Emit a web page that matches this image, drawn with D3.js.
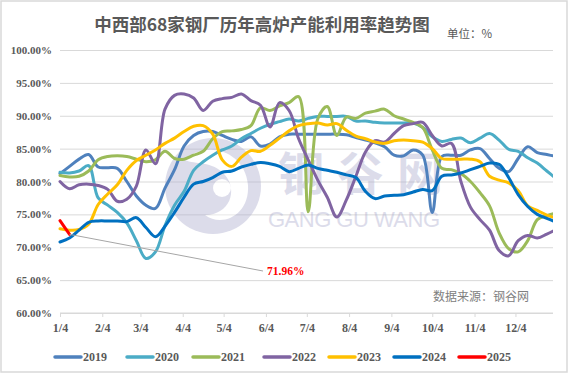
<!DOCTYPE html>
<html>
<head>
<meta charset="utf-8">
<script src="https://cdn.jsdelivr.net/npm/d3@7"></script>
<style>
  body { margin: 0; background: #fff; }
</style>
</head>
<body>
<script>
// weekly blast furnace utilisation, %, one value per week starting 1/4
var years = ["2019", "2020", "2021", "2022", "2023", "2024", "2025"];
var colors = ["#4f81bd", "#4bacc6", "#9bbb59", "#8064a2", "#ffc000", "#0070c0", "#ff0000"];

var v2019 = [81.2, 82.3, 83.4, 84.1, 82.2, 82.1, 82.0, 80.0, 77.8, 76.4,
             75.9, 79.0, 81.8, 85.4, 87.0, 87.6, 87.6, 87.0, 86.4, 86.1,
             86.8, 85.4, 85.7, 86.8, 87.2, 87.2, 87.2, 87.2, 87.2, 87.2,
             87.1, 86.7, 86.3, 85.9, 85.3, 84.0, 83.9, 84.8, 84.0, 75.3,
             83.8, 84.0, 84.0, 84.8, 85.0, 83.5, 82.0, 81.5, 83.5, 85.3,
             84.4, 84.1, 83.8];
var v2020 = [81.4, 81.3, 81.6, 82.4, 77.5, 76.4, 75.3, 73.7, 71.0, 68.3,
             69.3, 73.3, 76.4, 78.5, 81.7, 83.0, 84.0, 84.8, 85.4, 86.5,
             87.3, 88.1, 88.7, 89.1, 89.5, 89.2, 89.6, 89.9, 89.9, 89.9,
             89.9, 89.2, 89.2, 89.0, 88.9, 88.9, 88.9, 88.9, 88.2, 86.8,
             86.1, 86.4, 86.6, 85.9, 86.6, 87.3, 86.3, 84.9, 84.6, 83.6,
             82.8, 81.6, 80.4];
var v2021 = [80.9, 80.7, 80.8, 81.6, 83.3, 83.8, 83.9, 83.8, 83.4, 83.0,
             83.3, 84.6, 83.5, 83.4, 84.0, 84.6, 86.5, 87.6, 87.7, 87.9,
             88.5, 91.2, 90.8, 91.5, 92.0, 92.9, 75.4, 89.5, 91.4, 87.0,
             89.8, 89.6, 90.4, 90.7, 91.0, 90.0, 89.5, 89.0, 88.2, 84.8,
             82.0, 81.8, 81.2, 80.0, 78.3, 76.3, 72.2, 69.8, 69.3, 71.0,
             74.2, 74.8, 75.2];
var v2022 = [80.0, 78.9, 79.5, 79.6, 79.4, 78.8, 77.0, 77.3, 79.3, 84.8,
             82.7, 91.0, 93.1, 93.3, 92.7, 90.8, 92.2, 92.6, 92.8, 93.3,
             92.3, 91.6, 88.3, 92.0, 90.8, 86.5, 83.3, 80.2, 77.6, 74.6,
             77.2, 80.8, 84.5, 86.2, 86.0, 87.3, 88.5, 88.8, 89.0, 87.0,
             85.4, 85.8, 80.0, 76.1, 74.2, 72.6, 69.5, 68.7, 71.0, 71.8,
             71.4, 72.0, 72.7];
var v2023 = [72.8, 72.6, 72.7, 73.5, 76.5, 78.1, 79.5, 81.7, 83.2, 84.0,
             84.8, 85.8, 86.6, 87.6, 88.4, 88.5, 87.2, 83.3, 82.3, 83.7,
             84.7, 84.6, 85.5, 86.6, 87.7, 88.5, 88.8, 88.9, 88.6, 88.8,
             87.8, 86.9, 86.5, 86.0, 85.8, 86.2, 86.3, 86.2, 86.0, 85.0,
             83.5, 83.4, 83.4, 83.4, 83.0, 80.8, 80.2, 79.8, 78.6, 76.3,
             75.6, 74.9, 74.4];
var v2024 = [70.8, 71.4, 72.6, 73.8, 74.0, 74.0, 74.0, 73.9, 74.5, 73.0,
             71.6, 73.2, 75.3, 77.6, 79.6, 80.0, 80.6, 81.4, 81.6, 82.2,
             82.6, 82.9, 82.7, 82.3, 81.5, 82.0, 82.5, 82.0, 81.7, 81.4,
             81.0, 80.6, 78.5, 77.4, 77.8, 77.9, 78.0, 78.4, 78.8, 78.6,
             80.8, 81.0, 81.3, 81.8, 82.3, 82.8, 82.6, 80.6, 78.0, 76.2,
             75.0, 74.4, 73.8];
var v2025 = [74.05, 71.96];

var seriesValues = [v2019, v2020, v2021, v2022, v2023, v2024, v2025];
var yTicks = [60, 65, 70, 75, 80, 85, 90, 95, 100];
var xTickLabels = ["1/4", "2/4", "3/4", "4/4", "5/4", "6/4", "7/4", "8/4", "9/4", "10/4", "11/4", "12/4"];
var lastLabel = "71.96%";

var width = 570,
    height = 376;

var latin = "'Liberation Serif', 'DejaVu Serif', serif";
var cjk = "'Noto Sans CJK SC', sans-serif";

var svg = d3.select("body").append("svg")
            .attr("width", width)
            .attr("height", height);

svg.append("rect")
  .attr("x", 1).attr("y", 1)
  .attr("width", 566).attr("height", 371)
  .attr("fill", "#fff")
  .attr("stroke", "#d9d9d9")
  .attr("stroke-width", 1.5);

var start = new Date(2019, 0, 4);
var weeks = d3.range(53).map(function (i) { return d3.timeDay.offset(start, 7 * i); });

var x = d3.scaleTime()
  .domain([start, new Date(2020, 0, 2)])
  .range([60, 555]);

var y = d3.scaleLinear()
  .domain([60, 100])
  .range([313, 50]);

var plotRight = 553;

// gridlines + y labels
var yAxis = svg.append("g")
  .attr("transform", "translate(60,0)")
  .call(d3.axisLeft(y)
    .tickValues(yTicks)
    .tickSize(-(plotRight - 60))
    .tickPadding(8)
    .tickFormat(function (d) { return d3.format(".2f")(d) + "%"; }));
yAxis.select(".domain").remove();
yAxis.selectAll("line").attr("stroke", "#d9d9d9");
yAxis.selectAll("text")
  .attr("fill", "#595959")
  .style("font-family", latin)
  .style("font-weight", "bold")
  .style("font-size", "11px");

// watermark
var wm = svg.append("g").attr("opacity", 0.4);
wm.append("circle").attr("cx", 213).attr("cy", 186).attr("r", 48).attr("fill", "#a9a9cc");
wm.append("path")
  .attr("d", "M185,160 C205,140 245,150 248,185 C250,215 222,228 205,215 C230,215 238,190 225,175 C212,160 195,165 185,160 Z")
  .attr("fill", "#fff");
wm.append("circle").attr("cx", 222).attr("cy", 188).attr("r", 9).attr("fill", "#fff");
wm.append("text")
  .attr("x", 278).attr("y", 170)
  .attr("dominant-baseline", "central")
  .attr("fill", "#a9a9cc")
  .style("font-family", cjk)
  .style("font-weight", "bold")
  .style("font-size", "46px")
  .attr("textLength", 165)
  .text("钢谷网");
wm.append("text")
  .attr("x", 268).attr("y", 219)
  .attr("dominant-baseline", "central")
  .attr("fill", "#a9a9cc")
  .attr("textLength", 172)
  .style("font-family", "'Liberation Sans', Arial, sans-serif")
  .style("font-size", "22px")
  .text("GANG GU WANG");

// x axis
var xAxis = svg.append("g")
  .attr("transform", "translate(0,313)")
  .call(d3.axisBottom(x)
    .tickValues(xTickLabels.map(function (s) {
      var p = s.split("/");
      return new Date(2019, +p[0] - 1, +p[1]);
    }))
    .tickSize(4)
    .tickPadding(6)
    .tickFormat(d3.timeFormat("%-m/%-d")));
xAxis.select(".domain").attr("d", "M60,0H" + plotRight).attr("stroke", "#d9d9d9");
xAxis.selectAll("line").attr("stroke", "#d9d9d9");
xAxis.selectAll("text")
  .attr("fill", "#595959")
  .style("font-family", latin)
  .style("font-weight", "bold")
  .style("font-size", "12px");

// series
svg.append("clipPath").attr("id", "plot")
  .append("rect").attr("x", 58).attr("y", 40).attr("width", plotRight - 58).attr("height", 280);

var line = d3.line()
  .x(function (d, i) { return x(weeks[i]); })
  .y(function (d) { return y(d); })
  .curve(d3.curveCatmullRom.alpha(0.5));

svg.append("g").attr("clip-path", "url(#plot)")
  .selectAll("path")
  .data(seriesValues)
  .enter().append("path")
  .attr("d", line)
  .attr("fill", "none")
  .attr("stroke", function (d, i) { return colors[i]; })
  .attr("stroke-width", 3)
  .attr("stroke-linejoin", "round")
  .attr("stroke-linecap", "round");

// last value callout
var lastI = v2025.length - 1;
svg.append("line")
  .attr("x1", x(weeks[lastI])).attr("y1", y(v2025[lastI]))
  .attr("x2", 263).attr("y2", 271)
  .attr("stroke", "#a6a6a6")
  .attr("stroke-width", 1);
svg.append("text")
  .attr("x", 267).attr("y", 271)
  .attr("dominant-baseline", "central")
  .attr("fill", "#ff0000")
  .style("font-family", latin)
  .style("font-weight", "bold")
  .style("font-size", "11.5px")
  .text(lastLabel);

// titles
svg.append("text")
  .attr("x", 262).attr("y", 23)
  .attr("text-anchor", "middle")
  .attr("dominant-baseline", "central")
  .attr("fill", "#595959")
  .style("font-family", cjk)
  .style("font-weight", "bold")
  .style("font-size", "17.5px")
  .text("中西部68家钢厂历年高炉产能利用率趋势图");

svg.append("text")
  .attr("x", 447).attr("y", 33)
  .attr("dominant-baseline", "central")
  .attr("fill", "#595959")
  .style("font-family", cjk)
  .style("font-size", "11.5px")
  .text("单位：%");

svg.append("text")
  .attr("x", 433).attr("y", 295)
  .attr("dominant-baseline", "central")
  .attr("fill", "#808080")
  .style("font-family", cjk)
  .style("font-size", "12px")
  .text("数据来源：钢谷网");

// legend
var legendX = [54, 126, 192, 263, 328, 393, 458];
var legend = svg.append("g").selectAll("g")
  .data(years)
  .enter().append("g")
  .attr("transform", function (d, i) { return "translate(" + legendX[i] + ",357)"; });
legend.append("line")
  .attr("x1", 1).attr("x2", 27)
  .attr("stroke", function (d, i) { return colors[i]; })
  .attr("stroke-width", 3.5)
  .attr("stroke-linecap", "round");
legend.append("text")
  .attr("x", 29)
  .attr("dominant-baseline", "central")
  .attr("fill", "#595959")
  .style("font-family", latin)
  .style("font-weight", "bold")
  .style("font-size", "12px")
  .text(function (d) { return d; });
</script>
</body>
</html>
